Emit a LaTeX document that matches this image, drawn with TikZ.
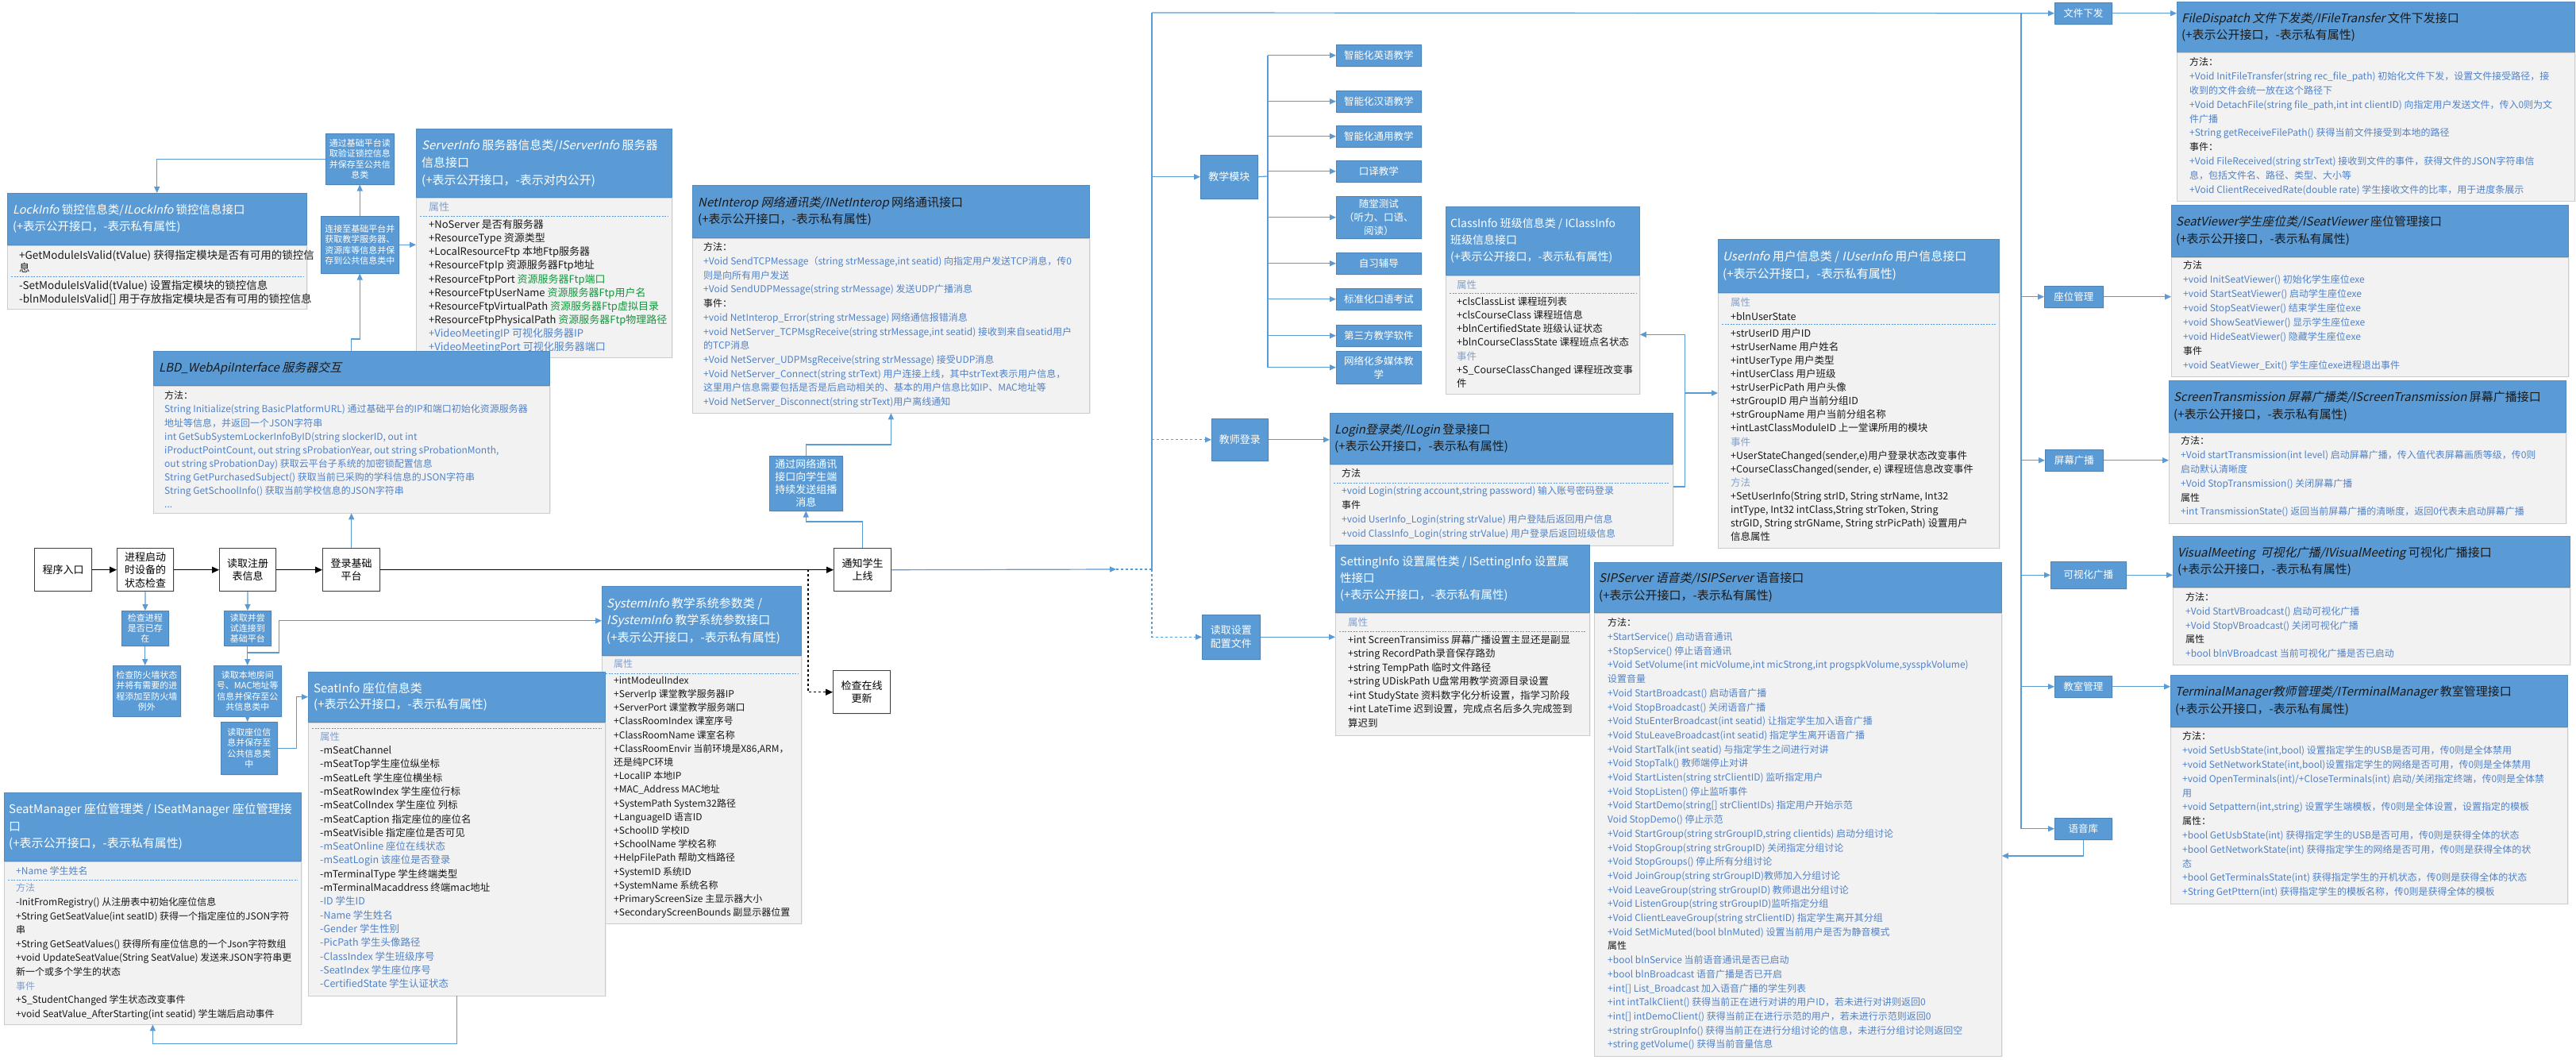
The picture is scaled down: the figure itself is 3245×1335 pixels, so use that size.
\documentclass[tikz,border=0pt]{standalone}
\usepackage{fontspec}
\setmainfont{Noto Sans CJK SC}[AutoFakeSlant=0.22]
\usetikzlibrary{arrows.meta, shadows}

\definecolor{hdrblue}{RGB}{91,155,213}
\definecolor{bodygray}{RGB}{242,242,242}
\definecolor{edgegray}{RGB}{204,204,204}
\definecolor{mblue}{RGB}{80,130,200}
\definecolor{lblue}{RGB}{132,160,206}
\definecolor{fgreen}{RGB}{20,150,60}
\definecolor{ink}{RGB}{25,25,25}

\begin{document}
\begin{tikzpicture}[x=1pt, y=-1pt,
    % 样式定义
    flowbox/.style={draw=black!75, line width=1.4pt, fill=white, anchor=north west, inner sep=0pt, align=center,
        font=\fontsize{13}{16.5}\selectfont, drop shadow={shadow xshift=1.5pt, shadow yshift=-1.5pt, fill=black!15}},
    bluetag/.style={draw=hdrblue!85!black, line width=0.5pt, fill=hdrblue, text=white, anchor=north west, inner sep=0pt,
        align=center, font=\fontsize{11}{13.3}\selectfont, drop shadow={shadow xshift=1.5pt, shadow yshift=-1.5pt, fill=black!15}},
    moduletag/.style={bluetag, font=\fontsize{12.5}{17}\selectfont},
    hdr/.style={draw=hdrblue!90!black, line width=0.5pt, fill=hdrblue, anchor=north west, inner sep=0pt},
    bodybox/.style={draw=edgegray, line width=0.8pt, fill=bodygray, anchor=north west, inner sep=0pt,
        drop shadow={shadow xshift=1.5pt, shadow yshift=-1.5pt, fill=black!12}},
    hdrtext/.style={anchor=west, align=left, inner sep=0pt, text=white, font=\fontsize{15}{21.5}\selectfont},
    darktitle/.style={hdrtext, text=ink},
    bodytext/.style={anchor=north west, align=left, inner sep=0pt, text=ink, font=\fontsize{12}{17.7}\selectfont},
    divider/.style={draw=hdrblue, line width=0.8pt, dash pattern=on 2pt off 1.5pt},
    wire/.style={draw=hdrblue, line width=1.2pt},
    link/.style={wire, -{Triangle[length=8pt, width=7pt]}},
    flowarrow/.style={draw=black, line width=1.2pt, -{Triangle[length=9pt, width=8pt]}}
]
\useasboundingbox (0,0) rectangle (3245,1335);
\fill[white] (0,0) rectangle (3245,1335);

% ▼▼▼ 启动流程 ▼▼▼
\node[flowbox, minimum width=72, minimum height=54] (entry) at (43,690) {程序入口};
\node[flowbox, minimum width=71, minimum height=54] (selfcheck) at (147,690) {进程启动\\时设备的\\状态检查};
\node[flowbox, minimum width=71, minimum height=54] (readreg) at (276,690) {读取注册\\表信息};
\node[flowbox, minimum width=72, minimum height=54] (loginbase) at (406,690) {登录基础\\平台};
\node[flowbox, minimum width=72, minimum height=54] (notify) at (1050,690) {通知学生\\上线};
\node[flowbox, minimum width=72, minimum height=54] (update) at (1049,844) {检查在线\\更新};

\node[bluetag, minimum width=59, minimum height=44] (chkproc) at (153,769) {检查进程\\是否已存\\在};
\node[bluetag, minimum width=85, minimum height=64] (chkfw) at (142,838) {检查防火墙状态\\并将有需要的进\\程添加至防火墙\\例外};
\node[bluetag, minimum width=59, minimum height=44] (tryconn) at (282,769) {读取并尝\\试连接到\\基础平台};
\node[bluetag, minimum width=85, minimum height=64] (readroom) at (269,838) {读取本地房间\\号、MAC地址等\\信息并保存至公\\共信息类中};
\node[bluetag, minimum width=71, minimum height=66] (readseat) at (278,909) {读取座位信\\息并保存至\\公共信息类\\中};
\node[bluetag, minimum width=86, minimum height=64] (readlock) at (410,168) {通过基础平台读\\取验证锁控信息\\并保存至公共信\\息类};
\node[bluetag, minimum width=98, minimum height=72] (connbase) at (404,272) {连接至基础平台并\\获取教学服务器、\\资源库等信息并保\\存到公共信息类中};
\node[bluetag, minimum width=92, minimum height=69, font=\fontsize{13}{16}\selectfont] (multicast) at (969,574) {通过网络通讯\\接口向学生端\\持续发送组播\\消息};

% ▼▼▼ 功能模块 ▼▼▼
\node[moduletag, minimum width=72, minimum height=55, font=\fontsize{13}{17}\selectfont] (teachmod) at (1512,195) {教学模块};
\node[moduletag, minimum width=107, minimum height=27] (subEn) at (1683,56) {智能化英语教学};
\node[moduletag, minimum width=107, minimum height=27] (subCn) at (1683,114) {智能化汉语教学};
\node[moduletag, minimum width=107, minimum height=27] (subGen) at (1683,158) {智能化通用教学};
\node[moduletag, minimum width=107, minimum height=27] (subInterp) at (1683,202) {口译教学};
\node[moduletag, minimum width=107, minimum height=53] (subQuiz) at (1683,247) {随堂测试\\（听力、口语、\\阅读）};
\node[moduletag, minimum width=107, minimum height=27] (subSelf) at (1683,318) {自习辅导};
\node[moduletag, minimum width=107, minimum height=27] (subOral) at (1683,363) {标准化口语考试};
\node[moduletag, minimum width=107, minimum height=27] (subThird) at (1683,409) {第三方教学软件};
\node[moduletag, minimum width=107, minimum height=41] (subMedia) at (1683,442) {网络化多媒体教\\学};
\node[moduletag, minimum width=71, minimum height=53, font=\fontsize{13}{17}\selectfont] (teacherlogin) at (1526,527) {教师登录};
\node[moduletag, minimum width=73, minimum height=56, font=\fontsize{13}{16.5}\selectfont] (readcfg) at (1514,774) {读取设置\\配置文件};
\node[moduletag, minimum width=72, minimum height=27] (filesend) at (2588,3) {文件下发};
\node[moduletag, minimum width=74, minimum height=27] (seatmgr) at (2575,360) {座位管理};
\node[moduletag, minimum width=73, minimum height=27] (screencast) at (2576,566) {屏幕广播};
\node[moduletag, minimum width=95, minimum height=34] (visualcast) at (2583,707) {可视化广播};
\node[moduletag, minimum width=72, minimum height=27] (classmgr) at (2588,851) {教室管理};
\node[moduletag, minimum width=72, minimum height=27] (voicelib) at (2588,1030) {语音库};

% ▼▼▼ LockInfo ▼▼▼
\node[hdr, minimum width=377, minimum height=65] (lockHead) at (9,243) {};
\node[hdrtext, font=\fontsize{14.5}{21}\selectfont] (lockTitle) at ([xshift=7]lockHead.west) {\textit{LockInfo} 锁控信息类/\textit{ILockInfo} 锁控信息接口\\(+表示公开接口，-表示私有属性)};
\node[bodybox, minimum width=377, minimum height=80] (lockBody) at (lockHead.south west) {};
\node[bodytext, font=\fontsize{13.5}{16.7}\selectfont] (lockGet) at ([xshift=15, yshift=-6]lockBody.north west) {+GetModuleIsValid(tValue) 获得指定模块是否有可用的锁控信\\息};
\draw[divider] ([xshift=5, yshift=-40]lockBody.north west) -- ([xshift=-5, yshift=-40]lockBody.north east);
\node[bodytext, font=\fontsize{13.5}{17}\selectfont] (lockSet) at ([xshift=15, yshift=-44]lockBody.north west) {-SetModuleIsValid(tValue) 设置指定模块的锁控信息\\-blnModuleIsValid[] 用于存放指定模块是否有可用的锁控信息};

% ▼▼▼ ServerInfo ▼▼▼
\node[hdr, minimum width=322, minimum height=86] (srvHead) at (524,162) {};
\node[hdrtext, font=\fontsize{15}{22}\selectfont] (srvTitle) at ([xshift=7]srvHead.west) {\textit{ServerInfo} 服务器信息类/\textit{IServerInfo} 服务器\\信息接口\\(+表示公开接口，-表示对内公开)};
\node[bodybox, minimum width=322, minimum height=201] (srvBody) at (srvHead.south west) {};
\node[bodytext, text=lblue, font=\fontsize{13}{17}\selectfont] (srvAttr) at ([xshift=16, yshift=-6]srvBody.north west) {属性};
\draw[divider] ([xshift=5, yshift=-24]srvBody.north west) -- ([xshift=-5, yshift=-24]srvBody.north east);
\node[bodytext, font=\fontsize{13}{17.1}\selectfont] (srvItems) at ([xshift=16, yshift=-28]srvBody.north west) {+NoServer 是否有服务器\\+ResourceType 资源类型\\+LocalResourceFtp 本地Ftp服务器\\+ResourceFtpIp 资源服务器Ftp地址\\+ResourceFtpPort \textcolor{fgreen}{资源服务器Ftp端口}\\+ResourceFtpUserName \textcolor{fgreen}{资源服务器Ftp用户名}\\+ResourceFtpVirtualPath \textcolor{fgreen}{资源服务器Ftp虚拟目录}\\+ResourceFtpPhysicalPath \textcolor{fgreen}{资源服务器Ftp物理路径}\\\textcolor{mblue}{+VideoMeetingIP 可视化服务器IP}\\\textcolor{mblue}{+VideoMeetingPort 可视化服务器端口}};

% ▼▼▼ LBD_WebApiInterface ▼▼▼
\node[hdr, minimum width=499, minimum height=43] (lbdHead) at (193,442) {};
\node[darktitle] (lbdTitle) at ([xshift=7]lbdHead.west) {\textit{LBD\_WebApiInterface 服务器交互}};
\node[bodybox, minimum width=499, minimum height=160] (lbdBody) at (lbdHead.south west) {};
\node[bodytext, text=mblue, font=\fontsize{12}{17.1}\selectfont] (lbdMethods) at ([xshift=14, yshift=-7]lbdBody.north west) {\textcolor{ink}{方法：}\\String Initialize(string BasicPlatformURL) 通过基础平台的IP和端口初始化资源服务器\\地址等信息，并返回一个JSON字符串\\int GetSubSystemLockerInfoByID(string slockerID, out int\\iProductPointCount, out string sProbationYear, out string sProbationMonth,\\out string sProbationDay) 获取云平台子系统的加密锁配置信息\\String GetPurchasedSubject() 获取当前已采购的学科信息的JSON字符串\\String GetSchoolInfo() 获取当前学校信息的JSON字符串\\...};

% ▼▼▼ NetInterop ▼▼▼
\node[hdr, minimum width=500, minimum height=66] (netHead) at (872,233) {};
\node[darktitle] (netTitle) at ([xshift=7]netHead.west) {\textit{NetInterop 网络通讯类/INetInterop} 网络通讯接口\\(+表示公开接口，-表示私有属性)};
\node[bodybox, minimum width=500, minimum height=220] (netBody) at (netHead.south west) {};
\node[bodytext, text=mblue] (netMethods) at ([xshift=14, yshift=-6]netBody.north west) {\textcolor{ink}{方法：}\\+Void SendTCPMessage（string strMessage,int seatid) 向指定用户发送TCP消息，传0\\则是向所有用户发送\\+Void SendUDPMessage(string strMessage) 发送UDP广播消息\\\textcolor{ink}{事件：}\\+void NetInterop\_Error(string strMessage) 网络通信报错消息\\+void NetServer\_TCPMsgReceive(string strMessage,int seatid) 接收到来自seatid用户\\的TCP消息\\+Void NetServer\_UDPMsgReceive(string strMessage) 接受UDP消息\\+Void NetServer\_Connect(string strText) 用户连接上线，其中strText表示用户信息，\\这里用户信息需要包括是否是后启动相关的、基本的用户信息比如IP、MAC地址等\\+Void NetServer\_Disconnect(string strText)用户离线通知};

% ▼▼▼ SystemInfo ▼▼▼
\node[hdr, minimum width=251, minimum height=87] (sysHead) at (758,738) {};
\node[hdrtext] (sysTitle) at ([xshift=6]sysHead.west) {\textit{SystemInfo} 教学系统参数类 /\\\textit{ISystemInfo} 教学系统参数接口\\(+表示公开接口，-表示私有属性)};
\node[bodybox, minimum width=251, minimum height=337] (sysBody) at (sysHead.south west) {};
\node[bodytext, text=lblue] (sysAttr) at ([xshift=15, yshift=-5]sysBody.north west) {属性};
\draw[divider] ([xshift=5, yshift=-23]sysBody.north west) -- ([xshift=-5, yshift=-23]sysBody.north east);
\node[bodytext, font=\fontsize{12}{17.2}\selectfont] (sysItems) at ([xshift=15, yshift=-26]sysBody.north west) {+intModeulIndex\\+ServerIp 课堂教学服务器IP\\+ServerPort 课堂教学服务端口\\+ClassRoomIndex 课室序号\\+ClassRoomName 课室名称\\+ClassRoomEnvir 当前环境是X86,ARM，\\还是纯PC环境\\+LocalIP 本地IP\\+MAC\_Address MAC地址\\+SystemPath System32路径\\+LanguageID 语言ID\\+SchoolID 学校ID\\+SchoolName 学校名称\\+HelpFilePath 帮助文档路径\\+SystemID 系统ID\\+SystemName 系统名称\\+PrimaryScreenSize 主显示器大小\\+SecondaryScreenBounds 副显示器位置};

% ▼▼▼ SeatInfo ▼▼▼
\node[hdr, minimum width=374, minimum height=63] (seatHead) at (388,846) {};
\node[hdrtext, font=\fontsize{15}{20}\selectfont] (seatTitle) at ([xshift=7]seatHead.west) {SeatInfo 座位信息类\\(+表示公开接口，-表示私有属性)};
\node[bodybox, minimum width=374, minimum height=344] (seatBody) at (seatHead.south west) {};
\draw[divider] ([xshift=5, yshift=-8]seatBody.north west) -- ([xshift=-5, yshift=-8]seatBody.north east);
\node[bodytext, font=\fontsize{12.5}{17.3}\selectfont] (seatItems) at ([xshift=15, yshift=-12]seatBody.north west) {\textcolor{lblue}{属性}\\-mSeatChannel\\-mSeatTop学生座位纵坐标\\-mSeatLeft 学生座位横坐标\\-mSeatRowIndex 学生座位行标\\-mSeatColIndex 学生座位 列标\\-mSeatCaption 指定座位的座位名\\-mSeatVisible 指定座位是否可见\\\textcolor{mblue}{-mSeatOnline 座位在线状态}\\\textcolor{mblue}{-mSeatLogin 该座位是否登录}\\-mTerminalType 学生终端类型\\-mTerminalMacaddress 终端mac地址\\\textcolor{mblue}{-ID 学生ID}\\\textcolor{mblue}{-Name 学生姓名}\\\textcolor{mblue}{-Gender 学生性别}\\\textcolor{mblue}{-PicPath 学生头像路径}\\\textcolor{mblue}{-ClassIndex 学生班级序号}\\\textcolor{mblue}{-SeatIndex 学生座位序号}\\\textcolor{mblue}{-CertifiedState 学生认证状态}};

% ▼▼▼ SeatManager ▼▼▼
\node[hdr, minimum width=374, minimum height=86] (smHead) at (5,998) {};
\node[hdrtext] (smTitle) at ([xshift=6]smHead.west) {SeatManager 座位管理类 / ISeatManager 座位管理接\\口\\(+表示公开接口，-表示私有属性)};
\node[bodybox, minimum width=374, minimum height=205] (smBody) at (smHead.south west) {};
\node[bodytext, text=mblue] (smName) at ([xshift=15, yshift=-7]smBody.north west) {+Name 学生姓名};
\draw[divider] ([xshift=5, yshift=-24]smBody.north west) -- ([xshift=-5, yshift=-24]smBody.north east);
\node[bodytext, font=\fontsize{12}{17.6}\selectfont] (smItems) at ([xshift=15, yshift=-28]smBody.north west) {\textcolor{lblue}{方法}\\-InitFromRegistry() 从注册表中初始化座位信息\\+String GetSeatValue(int seatID) 获得一个指定座位的JSON字符\\串\\+String GetSeatValues() 获得所有座位信息的一个Json字符数组\\+void UpdateSeatValue(String SeatValue) 发送来JSON字符串更\\新一个或多个学生的状态\\\textcolor{lblue}{事件}\\+S\_StudentChanged 学生状态改变事件\\+void SeatValue\_AfterStarting(int seatid) 学生端后启动事件};

% ▼▼▼ ClassInfo ▼▼▼
\node[hdr, minimum width=244, minimum height=86] (classHead) at (1821,260) {};
\node[hdrtext, font=\fontsize{14}{21}\selectfont] (classTitle) at ([xshift=6]classHead.west) {ClassInfo 班级信息类 / IClassInfo\\班级信息接口\\(+表示公开接口，-表示私有属性)};
\node[bodybox, minimum width=244, minimum height=149] (classBody) at (classHead.south west) {};
\node[bodytext, text=lblue, font=\fontsize{12.5}{17}\selectfont] (classAttr) at ([xshift=14, yshift=-6]classBody.north west) {属性};
\draw[divider] ([xshift=5, yshift=-23]classBody.north west) -- ([xshift=-5, yshift=-23]classBody.north east);
\node[bodytext, font=\fontsize{12.5}{17.2}\selectfont] (classItems) at ([xshift=14, yshift=-27]classBody.north west) {+clsClassList 课程班列表\\+clsCourseClass 课程班信息\\+blnCertifiedState 班级认证状态\\+blnCourseClassState 课程班点名状态\\\textcolor{lblue}{事件}\\+S\_CourseClassChanged 课程班改变事\\件};

% ▼▼▼ Login ▼▼▼
\node[hdr, minimum width=432, minimum height=64] (loginHead) at (1675,520) {};
\node[darktitle] (loginTitle) at ([xshift=6]loginHead.west) {\textit{Login登录类/ILogin} 登录接口\\(+表示公开接口，-表示私有属性)};
\node[bodybox, minimum width=432, minimum height=102] (loginBody) at (loginHead.south west) {};
\node[bodytext] (loginLbl) at ([xshift=15, yshift=-6]loginBody.north west) {方法};
\draw[divider] ([xshift=5, yshift=-24]loginBody.north west) -- ([xshift=-5, yshift=-24]loginBody.north east);
\node[bodytext, text=mblue] (loginItems) at ([xshift=15, yshift=-28]loginBody.north west) {+void Login(string account,string password) 输入账号密码登录\\\textcolor{ink}{事件}\\+void UserInfo\_Login(string strValue) 用户登陆后返回用户信息\\+void ClassInfo\_Login(string strValue) 用户登录后返回班级信息};

% ▼▼▼ SettingInfo ▼▼▼
\node[hdr, minimum width=320, minimum height=85] (setHead) at (1682,686) {};
\node[hdrtext, font=\fontsize{14.5}{21}\selectfont] (setTitle) at ([xshift=6]setHead.west) {SettingInfo 设置属性类 / ISettingInfo 设置属\\性接口\\(+表示公开接口，-表示私有属性)};
\node[bodybox, minimum width=320, minimum height=154] (setBody) at (setHead.south west) {};
\node[bodytext, text=lblue, font=\fontsize{12.5}{17}\selectfont] (setAttr) at ([xshift=16, yshift=-6]setBody.north west) {属性};
\draw[divider] ([xshift=5, yshift=-24]setBody.north west) -- ([xshift=-5, yshift=-24]setBody.north east);
\node[bodytext, font=\fontsize{12.5}{17.5}\selectfont] (setItems) at ([xshift=16, yshift=-28]setBody.north west) {+int ScreenTransimiss 屏幕广播设置主显还是副显\\+string RecordPath录音保存路劲\\+string TempPath 临时文件路径\\+string UDiskPath U盘常用教学资源目录设置\\+int StudyState 资料数字化分析设置，指学习阶段\\+int LateTime 迟到设置，完成点名后多久完成签到\\算迟到};

% ▼▼▼ UserInfo ▼▼▼
\node[hdr, minimum width=354, minimum height=67] (userHead) at (2164,301) {};
\node[hdrtext] (userTitle) at ([xshift=6]userHead.west) {\textit{UserInfo} 用户信息类 / \textit{IUserInfo} 用户信息接口\\(+表示公开接口，-表示私有属性)};
\node[bodybox, minimum width=354, minimum height=321] (userBody) at (userHead.south west) {};
\node[bodytext, font=\fontsize{12.5}{18}\selectfont] (userAttr) at ([xshift=16, yshift=-6]userBody.north west) {\textcolor{lblue}{属性}\\+blnUserState};
\draw[divider] ([xshift=5, yshift=-40]userBody.north west) -- ([xshift=-5, yshift=-40]userBody.north east);
\node[bodytext, font=\fontsize{12.5}{17.1}\selectfont] (userItems) at ([xshift=16, yshift=-45]userBody.north west) {+strUserID 用户ID\\+strUserName 用户姓名\\+intUserType 用户类型\\+intUserClass 用户班级\\+strUserPicPath 用户头像\\+strGroupID 用户当前分组ID\\+strGroupName 用户当前分组名称\\+intLastClassModuleID 上一堂课所用的模块\\\textcolor{lblue}{事件}\\+UserStateChanged(sender,e)用户登录状态改变事件\\+CourseClassChanged(sender, e) 课程班信息改变事件\\\textcolor{lblue}{方法}\\+SetUserInfo(String strID, String strName, Int32\\intType, Int32 intClass,String strToken, String\\strGID, String strGName, String strPicPath) 设置用户\\信息属性};

% ▼▼▼ SIPServer ▼▼▼
\node[hdr, minimum width=513, minimum height=63] (sipHead) at (2008,708) {};
\node[darktitle] (sipTitle) at ([xshift=6]sipHead.west) {\textit{SIPServer 语音类/ISIPServer} 语音接口\\(+表示公开接口，-表示私有属性)};
\node[bodybox, minimum width=513, minimum height=558] (sipBody) at (sipHead.south west) {};
\node[bodytext, text=mblue] (sipItems) at ([xshift=17, yshift=-7]sipBody.north west) {\textcolor{ink}{方法：}\\+StartService() 启动语音通讯\\+StopService() 停止语音通讯\\+Void SetVolume(int micVolume,int micStrong,int progspkVolume,sysspkVolume)\\设置音量\\+Void StartBroadcast() 启动语音广播\\+Void StopBroadcast() 关闭语音广播\\+Void StuEnterBroadcast(int seatid) 让指定学生加入语音广播\\+Void StuLeaveBroadcast(int seatid) 指定学生离开语音广播\\+Void StartTalk(int seatid) 与指定学生之间进行对讲\\+Void StopTalk() 教师端停止对讲\\+Void StartListen(string strClientID) 监听指定用户\\+Void StopListen() 停止监听事件\\+Void StartDemo(string[] strClientIDs) 指定用户开始示范\\Void StopDemo() 停止示范\\+Void StartGroup(string strGroupID,string clientids) 启动分组讨论\\+Void StopGroup(string strGroupID) 关闭指定分组讨论\\+Void StopGroups() 停止所有分组讨论\\+Void JoinGroup(string strGroupID)教师加入分组讨论\\+Void LeaveGroup(string strGroupID) 教师退出分组讨论\\+Void ListenGroup(string strGroupID)监听指定分组\\+Void ClientLeaveGroup(string strClientID) 指定学生离开其分组\\+Void SetMicMuted(bool blnMuted) 设置当前用户是否为静音模式\\\textcolor{ink}{属性}\\+bool blnService 当前语音通讯是否已启动\\+bool blnBroadcast 语音广播是否已开启\\+int[] List\_Broadcast 加入语音广播的学生列表\\+int intTalkClient() 获得当前正在进行对讲的用户ID，若未进行对讲则返回0\\+int[] intDemoClient() 获得当前正在进行示范的用户，若未进行示范则返回0\\+string strGroupInfo() 获得当前正在进行分组讨论的信息，未进行分组讨论则返回空\\+string getVolume() 获得当前音量信息};

% ▼▼▼ 右侧接口 ▼▼▼
\node[hdr, minimum width=501, minimum height=64] (fileHead) at (2742,2) {};
\node[darktitle] (fileTitle) at ([xshift=6]fileHead.west) {\textit{FileDispatch 文件下发类/IFileTransfer} 文件下发接口\\(+表示公开接口，-表示私有属性)};
\node[bodybox, minimum width=501, minimum height=186] (fileBody) at (fileHead.south west) {};
\node[bodytext, text=mblue, font=\fontsize{12}{17.8}\selectfont] (fileItems) at ([xshift=16, yshift=-6]fileBody.north west) {\textcolor{ink}{方法：}\\+Void InitFileTransfer(string rec\_file\_path) 初始化文件下发，设置文件接受路径，接\\收到的文件会统一放在这个路径下\\+Void DetachFile(string file\_path,int int clientID) 向指定用户发送文件，传入0则为文\\件广播\\+String getReceiveFilePath() 获得当前文件接受到本地的路径\\\textcolor{ink}{事件：}\\+Void FileReceived(string strText) 接收到文件的事件，获得文件的JSON字符串信\\息，包括文件名、路径、类型、大小等\\+Void ClientReceivedRate(double rate) 学生接收文件的比率，用于进度条展示};

\node[hdr, minimum width=500, minimum height=65] (svHead) at (2735,258) {};
\node[darktitle] (svTitle) at ([xshift=6]svHead.west) {\textit{SeatViewer学生座位类/ISeatViewer} 座位管理接口\\(+表示公开接口，-表示私有属性)};
\node[bodybox, minimum width=500, minimum height=150] (svBody) at (svHead.south west) {};
\node[bodytext, text=mblue, font=\fontsize{12}{18}\selectfont] (svItems) at ([xshift=15, yshift=-5]svBody.north west) {\textcolor{ink}{方法}\\+void InitSeatViewer() 初始化学生座位exe\\+void StartSeatViewer() 启动学生座位exe\\+void StopSeatViewer() 结束学生座位exe\\+void ShowSeatViewer() 显示学生座位exe\\+void HideSeatViewer() 隐藏学生座位exe\\\textcolor{ink}{事件}\\+void SeatViewer\_Exit() 学生座位exe进程退出事件};

\node[hdr, minimum width=500, minimum height=65] (stHead) at (2732,479) {};
\node[darktitle] (stTitle) at ([xshift=6]stHead.west) {\textit{ScreenTransmission 屏幕广播类/IScreenTransmission} 屏幕广播接口\\(+表示公开接口，-表示私有属性)};
\node[bodybox, minimum width=500, minimum height=114] (stBody) at (stHead.south west) {};
\node[bodytext, text=mblue, font=\fontsize{12}{17.8}\selectfont] (stItems) at ([xshift=15, yshift=-5]stBody.north west) {\textcolor{ink}{方法：}\\+Void startTransmission(int level) 启动屏幕广播，传入值代表屏幕画质等级，传0则\\启动默认清晰度\\+Void StopTransmission() 关闭屏幕广播\\\textcolor{ink}{属性}\\+int TransmissionState() 返回当前屏幕广播的清晰度，返回0代表未启动屏幕广播};

\node[hdr, minimum width=500, minimum height=64] (vmHead) at (2737,675) {};
\node[darktitle] (vmTitle) at ([xshift=6]vmHead.west) {\textit{VisualMeeting\ \ 可视化广播/IVisualMeeting} 可视化广播接口\\(+表示公开接口，-表示私有属性)};
\node[bodybox, minimum width=500, minimum height=97] (vmBody) at (vmHead.south west) {};
\node[bodytext, text=mblue] (vmItems) at ([xshift=16, yshift=-7]vmBody.north west) {\textcolor{ink}{方法：}\\+Void StartVBroadcast() 启动可视化广播\\+Void StopVBroadcast() 关闭可视化广播\\\textcolor{ink}{属性}\\+bool blnVBroadcast 当前可视化广播是否已启动};

\node[hdr, minimum width=500, minimum height=65] (tmHead) at (2734,850) {};
\node[darktitle] (tmTitle) at ([xshift=6]tmHead.west) {\textit{TerminalManager教师管理类/ITerminalManager} 教室管理接口\\(+表示公开接口，-表示私有属性)};
\node[bodybox, minimum width=500, minimum height=222] (tmBody) at (tmHead.south west) {};
\node[bodytext, text=mblue, font=\fontsize{12}{17.8}\selectfont] (tmItems) at ([xshift=15, yshift=-6]tmBody.north west) {\textcolor{ink}{方法：}\\+void SetUsbState(int,bool) 设置指定学生的USB是否可用，传0则是全体禁用\\+void SetNetworkState(int,bool)设置指定学生的网络是否可用，传0则是全体禁用\\+void OpenTerminals(int)/+CloseTerminals(int) 启动/关闭指定终端，传0则是全体禁\\用\\+void Setpattern(int,string) 设置学生端模板，传0则是全体设置，设置指定的模板\\\textcolor{ink}{属性：}\\+bool GetUsbState(int) 获得指定学生的USB是否可用，传0则是获得全体的状态\\+bool GetNetworkState(int) 获得指定学生的网络是否可用，传0则是获得全体的状\\态\\+bool GetTerminalsState(int) 获得指定学生的开机状态，传0则是获得全体的状态\\+String GetPttern(int) 获得指定学生的模板名称，传0则是获得全体的模板};

% ▼▼▼ 连线区 ▼▼▼
% 主流程
\draw[flowarrow] (entry) -- (selfcheck);
\draw[flowarrow] (selfcheck) -- (readreg);
\draw[flowarrow] (readreg) -- (loginbase);
\draw[flowarrow] (loginbase) -- (notify);
\coordinate (updfork) at (1018,717);
\draw[flowarrow, dashed] (updfork) |- (update);

% 左侧说明
\draw[link] (selfcheck) -- (chkproc);
\draw[link] (chkproc.south) -- (chkproc.south |- chkfw.north);
\draw[link] (readreg) -- (tryconn);
\draw[link] (tryconn.south) -- (tryconn.south |- readroom.north);
\draw[link] (readroom.south) -- (readroom.south |- readseat.north);
\coordinate (systap) at (311.5,822);
\draw[link] (systap) -- ++(40,0) |- (sysHead);
\draw[link] (readseat.east) -- ++(24,0) |- (seatHead);
\draw[link] (seatBody.south) -- ++(0,60) -| (smBody.south);
\draw[link] (readlock.west) -| (lockHead.north);
\draw[link] (connbase.north) -- (readlock.south);
\draw[link] (connbase.east) -- (connbase.east -| srvBody.west);
\draw[link] (lbdHead.north) -- ++(0,-15) -| (connbase.south);
\draw[link] (loginbase.north) -- (loginbase.north |- lbdBody.south);
\draw[link] (notify.north) -- ++(0,-33) -| (multicast.south);
\draw[link] (multicast.north) -- ++(0,-14) -| (netBody.south);

% 主干
\coordinate (trunkIn) at (1406,717);
\coordinate (trunkBot) at (1451,717);
\coordinate (trunkTop) at (1451,16);
\draw[link] (notify.east) -- (trunkIn);
\draw[wire, dashed] (trunkIn) -- (trunkBot);
\draw[wire] (trunkBot) -- (trunkTop);
\draw[link] (trunkTop) -- (filesend.west);
\draw[link] (trunkTop |- teachmod.west) -- (teachmod.west);
\draw[link, dashed] (trunkTop |- teacherlogin.west) -- (teacherlogin.west);
\draw[link, dashed] (trunkBot) |- (readcfg.west);

% 教学模块
\coordinate (teachBus) at (1597,222);
\draw[wire] (teachmod.east) -- (teachBus);
\draw[wire] (teachBus |- subEn.west) -- (teachBus |- subMedia.west);
\foreach \s in {subEn,subCn,subGen,subInterp,subQuiz,subSelf,subOral,subThird,subMedia}
    \draw[link] (teachBus |- \s.west) -- (\s.west);

% 登录与设置
\draw[link] (teacherlogin.east) -- (teacherlogin.east -| loginHead.west);
\draw[link] (readcfg.east) -- (readcfg.east -| setBody.west);
\draw[link] ([yshift=23]loginBody.east) -- ++(15,0) |- (classBody.east);
\coordinate (userTap) at (2122,495);
\draw[link] (userTap) -- (userTap -| userBody.west);

% 右侧
\coordinate (rightBus) at (2546,16);
\draw[wire] (rightBus) -- (rightBus |- voicelib.west);
\foreach \t in {seatmgr,screencast,visualcast,classmgr,voicelib}
    \draw[link] (rightBus |- \t.west) -- (\t.west);
\draw[link] (filesend.east) -- (filesend.east -| fileHead.west);
\draw[link] (seatmgr.east) -- (seatmgr.east -| svBody.west);
\draw[link] (screencast.east) -- (screencast.east -| stBody.west);
\draw[link] (visualcast.east) -- (visualcast.east -| vmHead.west);
\draw[link] (classmgr.east) -- (classmgr.east -| tmHead.west);
\draw[link] (voicelib.south) |- ([yshift=-27]sipBody.east);

\end{tikzpicture}
\end{document}
